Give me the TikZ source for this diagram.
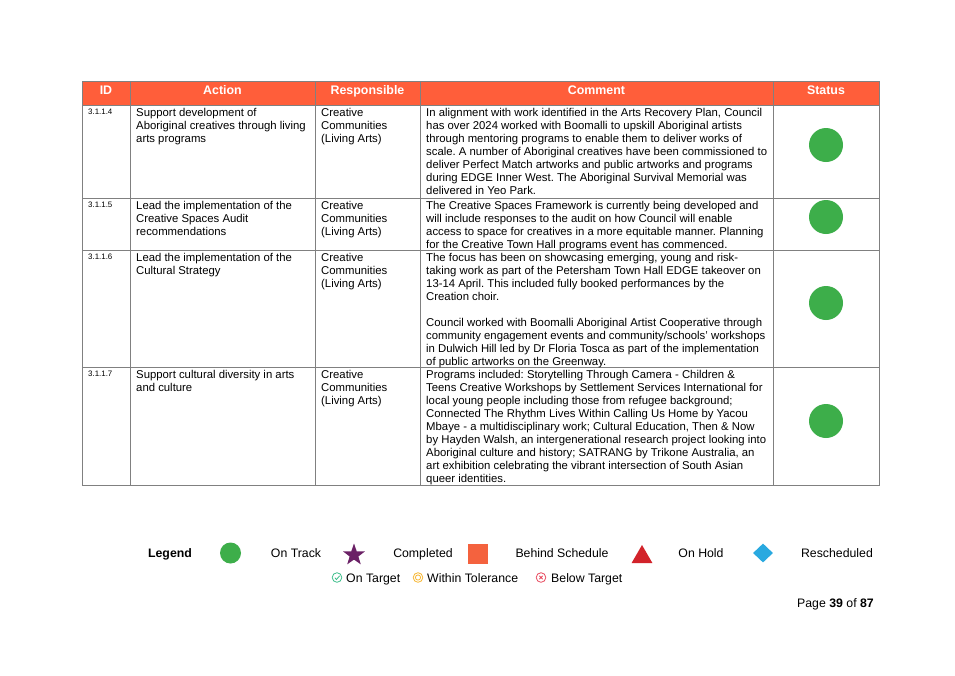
\documentclass[tikz,border=0pt]{standalone}
\usepackage{fontspec}
\setmainfont{Liberation Sans}
\usepackage{tikz}
\usetikzlibrary{shapes.geometric}
\frenchspacing
\definecolor{headorange}{HTML}{FF5E3A}
\definecolor{gridgray}{HTML}{808080}
\definecolor{trackgreen}{HTML}{3DAE4A}
\definecolor{donepurple}{HTML}{6B2166}
\definecolor{behindorange}{HTML}{F4623E}
\definecolor{holdred}{HTML}{D2232A}
\definecolor{reschblue}{HTML}{29A9E0}
\definecolor{targetgreen}{HTML}{3DBE8B}
\definecolor{tolyellow}{HTML}{F7B733}
\definecolor{belowred}{HTML}{E84A5F}
\tikzset{
  gridline/.style={draw=gridgray,line width=0.9pt},
  headtext/.style={font=\fontsize{12.4}{14}\selectfont\bfseries,text=white,anchor=base},
  idtext/.style={font=\fontsize{7.9}{9}\selectfont,anchor=north west,inner sep=0pt},
  celltext/.style={font=\fontsize{11.34}{13}\selectfont,anchor=north west,inner sep=0pt,align=left},
  ontrack/.style={circle,fill=trackgreen,minimum size=34pt,inner sep=0pt},
  legtext/.style={font=\fontsize{12.3}{14}\selectfont,anchor=base},
  kpitext/.style={font=\fontsize{12.3}{14}\selectfont,anchor=base west,inner sep=0pt}
}

\begin{document}
\begin{tikzpicture}[x=1pt,y=-1pt]
    \useasboundingbox[fill=white] (0,0) rectangle (955,675);

    \fill[headorange] (82,81) rectangle (879,105);
    \foreach \y in {105,198,250,367}
      \draw[gridline] (82,\y) -- (879,\y);
    \foreach \x in {130,315,420,773}
      \draw[gridline] (\x,81) -- (\x,485);
    \draw[gridline] (82,81) rectangle (879,485);

    \node[headtext] (hid) at (106,94.5) {ID};
    \node[headtext] (hact) at (222.5,94.5) {Action};
    \node[headtext] (hresp) at (367.5,94.5) {Responsible};
    \node[headtext] (hcom) at (596.5,94.5) {Comment};
    \node[headtext] (hstat) at (826,94.5) {Status};

    \foreach \y/\n/\idx in {105/1/3.1.1.4,198/2/3.1.1.5,250/3/3.1.1.6,367/4/3.1.1.7} {
      \node[idtext] (id\n) at (88,\y+3.5) {\idx};
      \node[celltext] (resp\n) at (321,\y+3) {Creative\\Communities\\(Living Arts)};
    }

    \node[celltext] (act1) at (136,108) {Support development of\\Aboriginal creatives through living\\arts programs};
    \node[celltext] (act2) at (136,201) {Lead the implementation of the\\Creative Spaces Audit\\recommendations};
    \node[celltext] (act3) at (136,253) {Lead the implementation of the\\Cultural Strategy};
    \node[celltext] (act4) at (136,370) {Support cultural diversity in arts\\and culture};

    \node[celltext] (com1) at (426,108) {In alignment with work identified in the Arts Recovery Plan, Council\\has over 2024 worked with Boomalli to upskill Aboriginal artists\\through mentoring programs to enable them to deliver works of\\scale. A number of Aboriginal creatives have been commissioned to\\deliver Perfect Match artworks and public artworks and programs\\during EDGE Inner West. The Aboriginal Survival Memorial was\\delivered in Yeo Park.};
    \node[celltext] (com2) at (426,201) {The Creative Spaces Framework is currently being developed and\\will include responses to the audit on how Council will enable\\access to space for creatives in a more equitable manner. Planning\\for the Creative Town Hall programs event has commenced.};
    \node[celltext] (com3) at (426,253) {The focus has been on showcasing emerging, young and risk-\\taking work as part of the Petersham Town Hall EDGE takeover on\\13-14 April. This included fully booked performances by the\\Creation choir.\\[13pt]Council worked with Boomalli Aboriginal Artist Cooperative through\\community engagement events and community/schools' workshops\\in Dulwich Hill led by Dr Floria Tosca as part of the implementation\\of public artworks on the Greenway.};
    \node[celltext] (com4) at (426,370) {Programs included: Storytelling Through Camera - Children \&\\Teens Creative Workshops by Settlement Services International for\\local young people including those from refugee background;\\Connected The Rhythm Lives Within Calling Us Home by Yacou\\Mbaye - a multidisciplinary work; Cultural Education, Then \& Now\\by Hayden Walsh, an intergenerational research project looking into\\Aboriginal culture and history; SATRANG by Trikone Australia, an\\art exhibition celebrating the vibrant intersection of South Asian\\queer identities.};

    \foreach \y/\n in {145/1,217/2,303/3,421/4}
      \node[ontrack] (stat\n) at (826,\y) {};

    \node[legtext,font=\fontsize{12.3}{14}\selectfont\bfseries] (legend) at (170,557.5) {Legend};
    \node[ontrack,minimum size=21pt] (legtrack) at (230.5,553) {};
    \node[legtext] (lontrack) at (296,557.5) {On Track};
    \node[star,star points=5,star point ratio=2.5,minimum size=23pt,inner sep=0pt,fill=donepurple] (legdone) at (354,555) {};
    \node[legtext] (lcompleted) at (423,557.5) {Completed};
    \node[rectangle,minimum size=20pt,inner sep=0pt,fill=behindorange] (legbehind) at (478,554) {};
    \node[legtext] (lbehind) at (562,557.5) {Behind Schedule};
    \node[regular polygon,regular polygon sides=3,minimum size=24pt,inner sep=0pt,fill=holdred] (leghold) at (642,557) {};
    \node[legtext] (lhold) at (701,557.5) {On Hold};
    \node[diamond,minimum width=20pt,minimum height=19pt,inner sep=0pt,fill=reschblue] (legresch) at (763,553) {};
    \node[legtext] (lresch) at (837,557.5) {Rescheduled};

    \draw[targetgreen,line width=0.8pt] (337,577.5) circle [radius=4.8];
    \draw[targetgreen,line width=0.8pt] (334.8,577.7) -- (336.5,579.5) -- (339.6,575.8);
    \node[kpitext] (ontarget) at (346,582) {On Target};
    \draw[tolyellow,line width=0.8pt] (418,577.5) circle [radius=4.8];
    \draw[tolyellow,line width=0.8pt] (418,577.5) circle [radius=2.6];
    \node[kpitext] (withintol) at (427,582) {Within Tolerance};
    \draw[belowred,line width=0.8pt] (541,577.5) circle [radius=4.8];
    \draw[belowred,line width=0.8pt] (539.3,575.8) -- (542.7,579.2) (539.3,579.2) -- (542.7,575.8);
    \node[kpitext] (belowtgt) at (551,582) {Below Target};

    \node[font=\fontsize{12.3}{14}\selectfont,anchor=base east,inner sep=0pt] (pagenum) at (874,607) {Page \textbf{39} of \textbf{87}};
  \end{tikzpicture}
\end{document}
